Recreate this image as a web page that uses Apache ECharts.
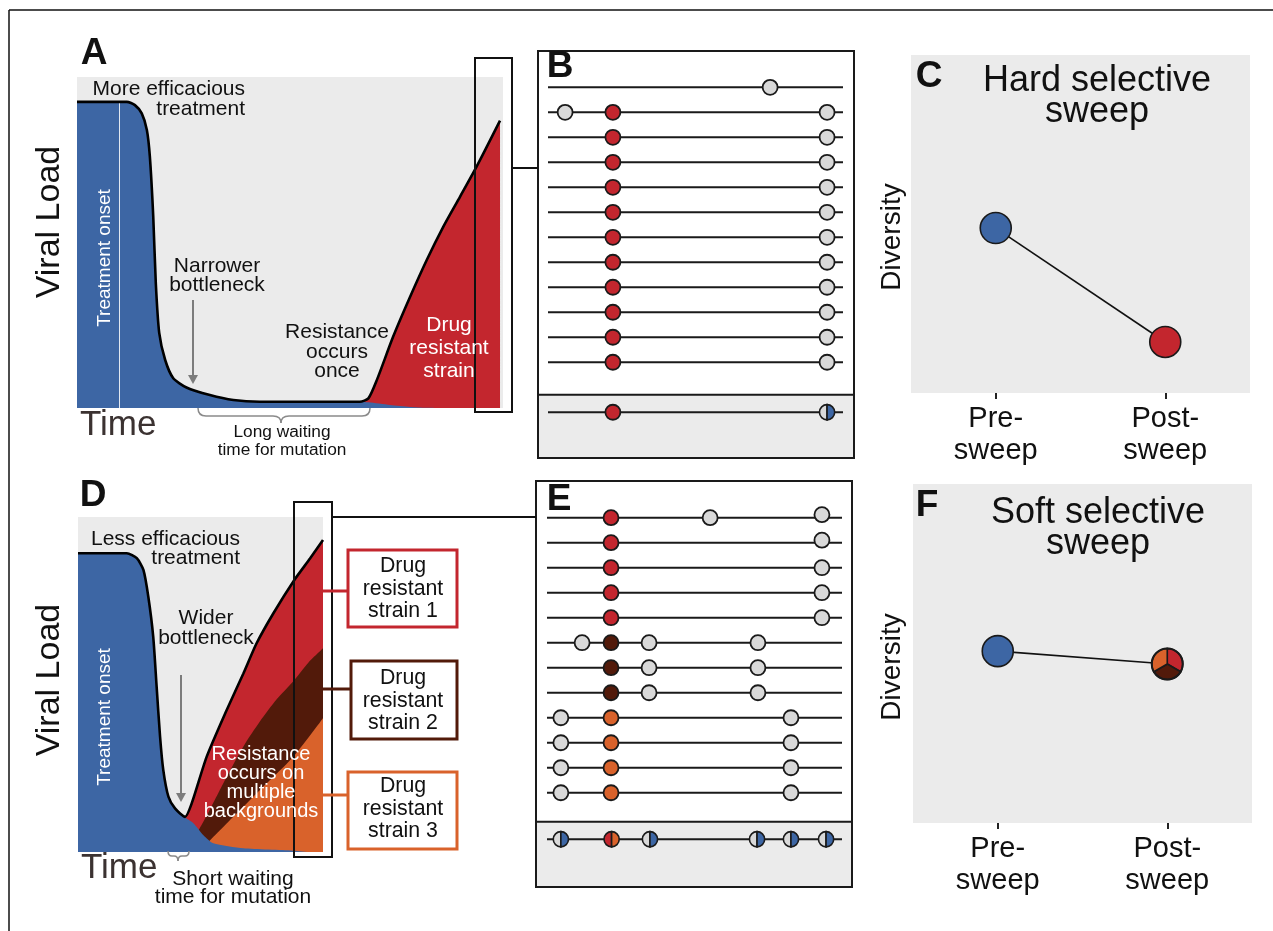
<!DOCTYPE html>
<html><head><meta charset="utf-8">
<script src="https://cdn.jsdelivr.net/npm/echarts@6/dist/echarts.min.js"></script>
<style>html,body{margin:0;padding:0;background:#fff}#c{width:1273px;height:931px}</style>
</head><body><div id="c"></div>
<script>
// ---------------- DATA ----------------
// Panel A: viral load over time (arbitrary units, x = time 0..100, y = load 0..100)
const loadA_total = [[0,92.5],[11.7,92.5],[13.6,91.5],[15.2,89],[16.4,84],[17.1,76],[17.9,57.8],[18.5,37.7],[19.3,22.7],[20.7,14.5],[22.6,9],[25.7,6.2],[31.2,3.9],[36.7,2.4],[42.9,1.9],[66.4,1.9],[68.4,2.9],[70.4,8.5],[74.2,21.5],[78.2,33.6],[82.1,44.7],[86,54.8],[89.9,63.8],[93.8,72.9],[99.3,86.8]];
const loadA_sensitive = [[0,92.5],[11.7,92.5],[13.6,91.5],[15.2,89],[16.4,84],[17.1,76],[17.9,57.8],[18.5,37.7],[19.3,22.7],[20.7,14.5],[22.6,9],[25.7,6.2],[31.2,3.9],[36.7,2.4],[42.9,1.9],[66.4,1.9],[68.4,1.7],[73.5,0.9],[78.2,0.3],[82,0.05],[85,0],[99.3,0]];
const onsetA = 9.9;
// Panel D
const loadD_total = [[0,89.2],[19.9,89.2],[24,87.7],[26.7,84.2],[28.7,76.2],[30.7,64.3],[32.1,49.3],[33.5,34.4],[34.8,24.5],[36.9,16.5],[39.6,13],[43.7,10.5],[46.4,14.5],[52.5,28.4],[60.7,42.4],[67.5,53.3],[72.9,62.3],[79.7,71.2],[88.3,81.2],[94.7,87.6],[100,93.1]];
const loadD_strain2 = [[48.4,5.4],[53,11.5],[60.7,22.5],[67.5,31.5],[74.3,39],[81,45.5],[87.9,51],[94,56.5],[100,60.8]];
const loadD_strain3 = [[52.5,2.4],[63.4,10.5],[74.3,18.5],[87.9,28.4],[100,39.9]];
const loadD_sensitive = [[0,89.2],[19.9,89.2],[24,87.7],[26.7,84.2],[28.7,76.2],[30.7,64.3],[32.1,49.3],[33.5,34.4],[34.8,24.5],[36.9,16.5],[39.6,13],[43.7,10.3],[47.1,8.6],[51.1,5.1],[55.2,2.6],[67.5,1.1],[87.9,0.4],[95,0],[100,0]];
const onsetD = 16.7;

// Panel B: genomes (x = genome position 0..100, y = row)
const genomeSpan = [0, 100];
const rowsB = [0,1,2,3,4,5,6,7,8,9,10,11,13];
const consensusSepB = 12.3;
const sitesB = [
  [75.3,0,'neutral'],
  [5.8,1,'neutral'],[22,1,'resist'],[94.6,1,'neutral'],
  [22,2,'resist'],[94.6,2,'neutral'],[22,3,'resist'],[94.6,3,'neutral'],
  [22,4,'resist'],[94.6,4,'neutral'],[22,5,'resist'],[94.6,5,'neutral'],
  [22,6,'resist'],[94.6,6,'neutral'],[22,7,'resist'],[94.6,7,'neutral'],
  [22,8,'resist'],[94.6,8,'neutral'],[22,9,'resist'],[94.6,9,'neutral'],
  [22,10,'resist'],[94.6,10,'neutral'],[22,11,'resist'],[94.6,11,'neutral'],
  [22,13,'resist']
];
const splitSitesB = [[94.6,13,'neutral','wild']];

// Panel E
const rowsE = [0,1,2,3,4,5,6,7,8,9,10,11,12.86];
const consensusSepE = 12.16;
const sitesE = [
  [21.7,0,'resist'],[55.3,0,'neutral'],[93.2,-0.12,'neutral'],
  [21.7,1,'resist'],[93.2,0.9,'neutral'],
  [21.7,2,'resist'],[93.2,2,'neutral'],
  [21.7,3,'resist'],[93.2,3,'neutral'],
  [21.7,4,'resist'],[93.2,4,'neutral'],
  [11.9,5,'neutral'],[21.7,5,'resist2'],[34.6,5,'neutral'],[71.5,5,'neutral'],
  [21.7,6,'resist2'],[34.6,6,'neutral'],[71.5,6,'neutral'],
  [21.7,7,'resist2'],[34.6,7,'neutral'],[71.5,7,'neutral'],
  [4.7,8,'neutral'],[21.7,8,'resist3'],[82.7,8,'neutral'],
  [4.7,9,'neutral'],[21.7,9,'resist3'],[82.7,9,'neutral'],
  [4.7,10,'neutral'],[21.7,10,'resist3'],[82.7,10,'neutral'],
  [4.7,11,'neutral'],[21.7,11,'resist3'],[82.7,11,'neutral']
];
const splitSitesE = [[4.7,12.86,'neutral','wild'],[21.9,12.86,'resist','resist3'],[34.9,12.86,'neutral','wild'],[71.2,12.86,'neutral','wild'],[82.7,12.86,'neutral','wild'],[94.6,12.86,'neutral','wild']];

// Panels C / F: diversity
const sweepCategories = ['Pre-\nsweep','Post-\nsweep'];
const diversityHard = [48.8, 15.1];
const diversitySoft = [50.7, 46.9];
const softPostShares = [1, 1, 1]; // strain 1, strain 2, strain 3

// ---------------- STYLE ----------------
const FF = "'Liberation Sans', Arial, Helvetica, sans-serif";
const BLUE='#3d66a4', RED='#c3262e', BROWN='#521a0a', ORANGE='#d9622b', BG='#ebebeb', INK='#111', LINE='#1a1a1a';
const COL = {neutral:'#d9d9d9', resist:RED, resist2:BROWN, resist3:ORANGE, wild:BLUE};

const chart = echarts.init(document.getElementById('c'), null, {renderer:'canvas'});

function hid(gi, min, max, inv){ return {type:'value', gridIndex:gi, min, max, inverse:!!inv, show:false, splitLine:{show:false}}; }
function catX(gi){ return {type:'category', gridIndex:gi, data:sweepCategories, boundaryGap:true,
  axisLine:{show:false}, axisTick:{show:true, alignWithLabel:true, length:6, lineStyle:{color:'#222', width:2}},
  axisLabel:{show:true, fontSize:29, lineHeight:32, color:INK, margin:10, fontFamily:FF}, splitLine:{show:false}}; }

const SMOOTH = 0.22;
function areaSeries(xi, data, color, z){
  return {type:'line', xAxisIndex:xi, yAxisIndex:xi, data, smooth:SMOOTH, symbol:'none',
    lineStyle:{width:0, opacity:0}, areaStyle:{color, opacity:1}, z, silent:true};
}
function outline(xi, data){
  return {type:'line', xAxisIndex:xi, yAxisIndex:xi, data, smooth:SMOOTH, symbol:'none',
    lineStyle:{color:'#000', width:2.6}, z:6, silent:true};
}
function onsetLine(x, top){
  return {silent:true, symbol:['none','none'], label:{show:false}, lineStyle:{color:'#fff', width:1, type:'solid', opacity:0.85},
    data:[[{coord:[x,0]},{coord:[x,top]}]]};
}
function sectionSeries(ai, sep){
  return {type:'custom', xAxisIndex:ai, yAxisIndex:ai, data:[[0, sep]], encode:{x:0,y:1}, z:1, silent:true,
    renderItem:(p, api)=>{ const cs=p.coordSys; const y=api.coord([0, api.value(1)])[1];
      return {type:'rect', shape:{x:cs.x, y, width:cs.width, height:cs.y+cs.height-y}, style:{fill:BG, stroke:LINE, lineWidth:2}}; }};
}
function genomeSeries(ai, rows){
  return {type:'custom', xAxisIndex:ai, yAxisIndex:ai, data:rows.map(r=>[genomeSpan[0], r, genomeSpan[1]]), encode:{x:[0,2], y:1}, z:2, silent:true,
    renderItem:(p, api)=>{ const a=api.coord([api.value(0), api.value(1)]), b=api.coord([api.value(2), api.value(1)]);
      return {type:'line', shape:{x1:a[0], y1:a[1], x2:b[0], y2:b[1]}, style:{stroke:LINE, lineWidth:2}}; }};
}
function dotSeries(ai, list){
  return {type:'scatter', xAxisIndex:ai, yAxisIndex:ai, symbol:'circle', symbolSize:15, z:3, silent:true,
    itemStyle:{borderColor:LINE, borderWidth:1.8, opacity:1},
    data:list.map(d=>({value:[d[0], d[1]], itemStyle:{color:COL[d[2]]}}))};
}
function splitSeries(ai, list){
  return {type:'custom', xAxisIndex:ai, yAxisIndex:ai, data:list.map(d=>[d[0], d[1]]), encode:{x:0,y:1}, z:4, silent:true,
    renderItem:(p, api)=>{ const d=list[p.dataIndex]; const c=api.coord([api.value(0), api.value(1)]); const r=7.6;
      return {type:'group', children:[
        {type:'sector', shape:{cx:c[0], cy:c[1], r, r0:0, startAngle:Math.PI/2, endAngle:Math.PI*1.5, clockwise:true}, style:{fill:COL[d[2]], stroke:LINE, lineWidth:1.6}},
        {type:'sector', shape:{cx:c[0], cy:c[1], r, r0:0, startAngle:-Math.PI/2, endAngle:Math.PI/2, clockwise:true}, style:{fill:COL[d[3]], stroke:LINE, lineWidth:1.6}}
      ]}; }};
}

// ---------------- GRAPHIC helpers ----------------
function T(x, y, text, o){ o=o||{};
  return {type:'text', x, y, rotation:o.rot||0, z:50, silent:true,
    style:{text, x:0, y:0, fill:o.color||INK, fontSize:o.size||19, fontFamily:FF, fontWeight:o.bold?'bold':'normal',
      textAlign:o.align||'center', align:o.align||'center', textVerticalAlign:'middle', verticalAlign:'middle', lineHeight:o.lh||((o.size||19)*1.0)}};
}
function L(x1,y1,x2,y2,color,w){ return {type:'line', z:40, silent:true, shape:{x1,y1,x2,y2}, style:{stroke:color, lineWidth:w}}; }
function R(x,y,w,h,stroke,lw,fill){ return {type:'rect', z:40, silent:true, shape:{x,y,width:w,height:h}, style:{stroke, lineWidth:lw, fill:fill||'none'}}; }
function Q(x1,y1,cx,cy,x2,y2,color){ return {type:'bezierCurve', z:40, silent:true, shape:{x1,y1,x2,y2,cpx1:cx,cpy1:cy}, style:{stroke:color, lineWidth:1.5, fill:'none'}}; }
function brace(x1, x2, xm, y0, y1, y2, r, color){
  return [Q(x1,y0,x1,y1,x1+r,y1,color), L(x1+r,y1,xm-r,y1,color,1.5), Q(xm-r,y1,xm,y1,xm,y2,color),
          Q(xm,y2,xm,y1,xm+r,y1,color), L(xm+r,y1,x2-r,y1,color,1.5), Q(x2-r,y1,x2,y1,x2,y0,color)];
}
function arrow(x, y1, y2, color){
  return [L(x,y1,x,y2-6,color,2), {type:'polygon', z:40, silent:true, shape:{points:[[x-5,y2-9],[x+5,y2-9],[x,y2]]}, style:{fill:color}}];
}

const GRAY_ARROW = '#7c7c7c', BRACE='#8a8a8a';
const graphics = [
  // figure frame (top + left)
  L(9,10,1273,10,'#111',1.5), L(9,10,9,931,'#111',1.5),
  // panel letters
  T(94,54,'A',{bold:true,size:37}), T(560,67,'B',{bold:true,size:37}), T(929,77,'C',{bold:true,size:37}),
  T(93,496,'D',{bold:true,size:37}), T(559,500,'E',{bold:true,size:37}), T(927,506,'F',{bold:true,size:37}),
  // Panel A texts
  T(50,222,'Viral Load',{size:34,rot:Math.PI/2}),
  T(80,425,'Time',{size:35,align:'left',color:'#3b3231'}),
  T(105,258,'Treatment onset',{size:19,rot:Math.PI/2,color:'#fff'}),
  T(245,99,'More efficacious\ntreatment',{size:21,lh:19.7,align:'right'}),
  T(217,276,'Narrower\nbottleneck',{size:21,lh:19}),
  ...arrow(193,300,384,GRAY_ARROW),
  T(337,352,'Resistance\noccurs\nonce',{size:21,lh:19.5}),
  T(449,348,'Drug\nresistant\nstrain',{size:21,lh:22.8,color:'#fff'}),
  ...brace(198,370,281,408,416,423,8,BRACE),
  T(282,441,'Long waiting\ntime for mutation',{size:17.3,lh:17.6}),
  R(475,58,37,354,'#111',2), L(512,168,538,168,'#111',2),
  // Panel C / F titles
  T(1097,97,'Hard selective\nsweep',{size:36,lh:31}),
  T(892,237,'Diversity',{size:28,rot:Math.PI/2}),
  T(1098,529,'Soft selective\nsweep',{size:36,lh:31}),
  T(892,667,'Diversity',{size:28,rot:Math.PI/2}),
  // Panel D texts
  T(50,680,'Viral Load',{size:34,rot:Math.PI/2}),
  T(81,868,'Time',{size:35,align:'left',color:'#3b3231'}),
  T(105,717,'Treatment onset',{size:19,rot:Math.PI/2,color:'#fff'}),
  T(240,549,'Less efficacious\ntreatment',{size:21,lh:19,align:'right'}),
  T(206,628,'Wider\nbottleneck',{size:21,lh:19.5}),
  ...arrow(181,675,802,GRAY_ARROW),
  T(261,783,'Resistance\noccurs on\nmultiple\nbackgrounds',{size:20,lh:18.9,color:'#fff'}),
  ...brace(168,189,178,851,856,861,4,BRACE),
  T(233,888,'Short waiting\ntime for mutation',{size:21,lh:18}),
  R(294,502,38,355,'#111',2), L(332,517,536,517,'#111',2),
  // strain boxes
  L(323,591,348,591,RED,3), R(348,550,109,77,RED,3,'#fff'), T(403,589,'Drug\nresistant\nstrain 1',{size:21.3,lh:22.5}),
  L(323,689,351,689,BROWN,3), R(351,661,106,78,BROWN,3,'#fff'), T(403,701,'Drug\nresistant\nstrain 2',{size:21.3,lh:22.5}),
  L(323,795,348,795,ORANGE,3), R(348,772,109,77,ORANGE,3,'#fff'), T(403,809,'Drug\nresistant\nstrain 3',{size:21.3,lh:22.5})
];

// ---------------- OPTION ----------------
const option = {
  animation:false,
  backgroundColor:'#fff',
  textStyle:{fontFamily:FF},
  grid:[
    {left:77, top:77, width:426, height:331, show:true, backgroundColor:BG, borderWidth:0, outerBoundsMode:'none'},
    {left:538, top:51, width:316, height:407, show:true, backgroundColor:'#fff', borderColor:LINE, borderWidth:2, outerBoundsMode:'none'},
    {left:911, top:55, width:339, height:338, show:true, backgroundColor:BG, borderWidth:0, outerBoundsMode:'none'},
    {left:78, top:517, width:245, height:335, show:true, backgroundColor:BG, borderWidth:0, outerBoundsMode:'none'},
    {left:536, top:481, width:316, height:406, show:true, backgroundColor:'#fff', borderColor:LINE, borderWidth:2, outerBoundsMode:'none'},
    {left:913, top:484, width:339, height:339, show:true, backgroundColor:BG, borderWidth:0, outerBoundsMode:'none'}
  ],
  xAxis:[hid(0,0,100), hid(1,-3.39,103.73), catX(2), hid(3,0,100), hid(4,-3.73,103.39), catX(5)],
  yAxis:[hid(0,0,100), hid(1,-1.452,14.83,true), hid(2,0,100), hid(3,0,100), hid(4,-1.468,14.77,true), hid(5,0,100)],
  series:[
    // A
    areaSeries(0, loadA_total, RED, 2),
    Object.assign(areaSeries(0, loadA_sensitive, BLUE, 3), {markLine:onsetLine(onsetA, loadA_total[0][1])}),
    outline(0, loadA_total),
    // D
    areaSeries(3, loadD_total, RED, 2),
    areaSeries(3, loadD_strain2, BROWN, 3),
    areaSeries(3, loadD_strain3, ORANGE, 4),
    Object.assign(areaSeries(3, loadD_sensitive, BLUE, 5), {markLine:onsetLine(onsetD, loadD_total[0][1])}),
    outline(3, loadD_total),
    // B
    sectionSeries(1, consensusSepB), genomeSeries(1, rowsB), dotSeries(1, sitesB), splitSeries(1, splitSitesB),
    // E
    sectionSeries(4, consensusSepE), genomeSeries(4, rowsE), dotSeries(4, sitesE), splitSeries(4, splitSitesE),
    // C
    {type:'line', xAxisIndex:2, yAxisIndex:2, symbol:'circle', symbolSize:31, z:3, silent:true,
      lineStyle:{color:'#111', width:1.6}, itemStyle:{borderColor:LINE, borderWidth:1.6},
      data:[{value:diversityHard[0], itemStyle:{color:BLUE}}, {value:diversityHard[1], itemStyle:{color:RED}}]},
    // F
    {type:'line', xAxisIndex:5, yAxisIndex:5, symbol:'circle', symbolSize:31, z:3, silent:true,
      lineStyle:{color:'#111', width:1.6}, itemStyle:{borderColor:LINE, borderWidth:1.6},
      data:[{value:diversitySoft[0], itemStyle:{color:BLUE}}, {value:diversitySoft[1], symbolSize:0, itemStyle:{color:'rgba(0,0,0,0)', borderWidth:0}}]},
    {type:'custom', xAxisIndex:5, yAxisIndex:5, z:5, silent:true, data:[[1, diversitySoft[1]]], encode:{x:0,y:1},
      renderItem:(p, api)=>{ const c=api.coord([api.value(0), api.value(1)]); const r=15.5;
        const cols=[RED, BROWN, ORANGE]; const sum=softPostShares.reduce((a,b)=>a+b,0);
        let a0=-Math.PI/2; const ch=[];
        softPostShares.forEach((s,i)=>{ const a1=a0+2*Math.PI*s/sum;
          ch.push({type:'sector', shape:{cx:c[0], cy:c[1], r, r0:0, startAngle:a0, endAngle:a1, clockwise:true}, style:{fill:cols[i], stroke:LINE, lineWidth:1.6}});
          a0=a1; });
        ch.push({type:'circle', shape:{cx:c[0], cy:c[1], r}, style:{fill:'none', stroke:LINE, lineWidth:2}});
        return {type:'group', children:ch}; }}
  ],
  graphic:{elements:graphics}
};
chart.setOption(option);
</script>
</body></html>
